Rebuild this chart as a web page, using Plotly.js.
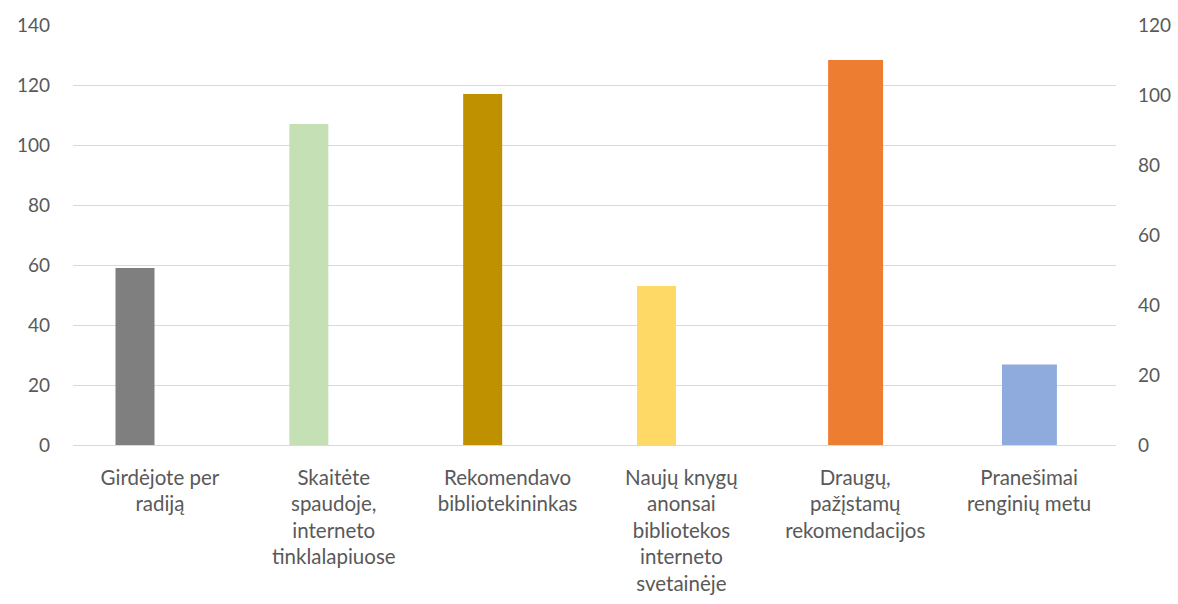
<!DOCTYPE html>
<html>
<head>
<meta charset="utf-8">
<script src="https://cdn.plot.ly/plotly-3.0.1.min.js"></script>
<style>html,body{margin:0;padding:0;background:#fff;}#chart{width:1178px;height:604px;}</style>
</head>
<body>
<div id="chart"></div>
<script>
const categories = ["Girdėjote per radiją", "Skaitėte spaudoje, interneto tinklalapiuose", "Rekomendavo bibliotekininkas", "Naujų knygų anonsai bibliotekos interneto svetainėje", "Draugų, pažįstamų rekomendacijos", "Pranešimai renginių metu"];
const tickLabels = ["Girdėjote per<br>radiją", "Skaitėte<br>spaudoje,<br>interneto<br>tinklalapiuose", "Rekomendavo<br>bibliotekininkas", "Naujų knygų<br>anonsai<br>bibliotekos<br>interneto<br>svetainėje", "Draugų,<br>pažįstamų<br>rekomendacijos", "Pranešimai<br>renginių metu"];
const primaryValues = [59, 107, 117, 53, null, null];
const secondaryValues = [null, null, null, null, 110, 23];
const barColors = ["#7f7f7f", "#c5e0b4", "#bf9000", "#ffd966", "#ed7d31", "#8faadc"];

const font = {family: "Lato, 'Open Sans', sans-serif", size: 19, color: "#595959"};
const xfont = {family: "Lato, 'Open Sans', sans-serif", size: 20.5, color: "#595959"};

const traces = [
  {type: "bar", x: categories, y: primaryValues, yaxis: "y", marker: {color: barColors}, width: 0.2244, offset: -0.2555, hoverinfo: "x+y"},
  {type: "bar", x: categories, y: secondaryValues, yaxis: "y2", marker: {color: barColors}, width: 0.316, offset: -0.156, hoverinfo: "x+y"}
];

const layout = {
  width: 1178, height: 604,
  margin: {l: 73, r: 62, t: 24.5, b: 159},
  paper_bgcolor: "#fff", plot_bgcolor: "#fff",
  showlegend: false,
  barmode: "overlay",
  font: font,
  xaxis: {type: "category", categoryorder: "array", categoryarray: categories, tickvals: categories, ticktext: tickLabels, showgrid: false, showline: false, ticks: "", zeroline: false, tickfont: xfont, ticklabelstandoff: 18, tickangle: 0, fixedrange: true},
  yaxis: {range: [0, 140], dtick: 20, showgrid: true, gridcolor: "#d9d9d9", gridwidth: 1, zeroline: true, zerolinecolor: "#d9d9d9", zerolinewidth: 1, showline: false, ticks: "", tickfont: font, ticklabelstandoff: 22, fixedrange: true},
  yaxis2: {range: [0, 120], dtick: 20, overlaying: "y", side: "right", showgrid: false, zeroline: false, showline: false, ticks: "", tickfont: font, ticklabelstandoff: 21, fixedrange: true}
};

Plotly.newPlot("chart", traces, layout, {displayModeBar: false, staticPlot: true});
</script>
</body>
</html>
